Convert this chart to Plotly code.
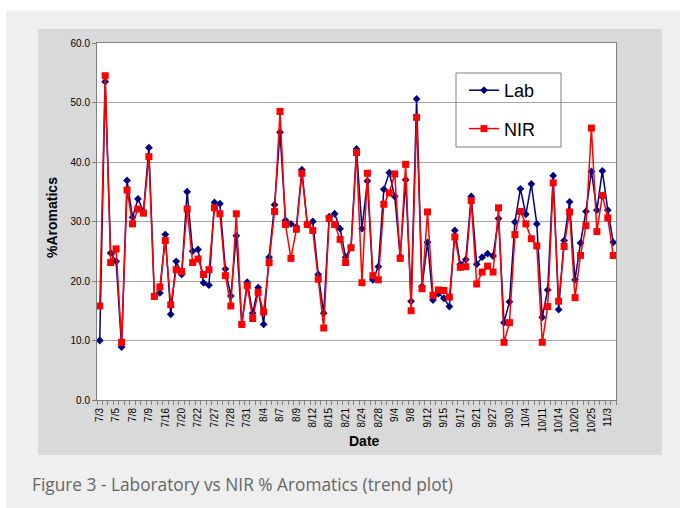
import plotly.graph_objects as go

# ---- data ----
date_labels = ["7/3", "7/5", "7/8", "7/9", "7/16", "7/20", "7/22", "7/27", "7/28", "7/31",
               "8/4", "8/7", "8/9", "8/12", "8/15", "8/21", "8/24", "8/28", "9/4", "9/8",
               "9/12", "9/15", "9/17", "9/21", "9/27", "9/30", "10/4", "10/11", "10/14",
               "10/20", "10/25", "11/3"]
label_every = 3

lab = [10.0, 53.5, 24.7, 23.3, 8.9, 36.9, 30.7, 33.8, 31.7, 42.4,
       17.5, 18.0, 27.8, 14.4, 23.3, 21.1, 35.0, 25.0, 25.3, 19.7,
       19.3, 33.2, 33.0, 22.0, 17.5, 27.6, 12.7, 19.8, 14.6, 18.9,
       12.7, 24.0, 32.8, 45.0, 30.2, 29.6, 29.1, 38.7, 29.5, 30.0,
       21.1, 14.6, 30.8, 31.3, 28.8, 24.0, 25.7, 42.2, 28.8, 36.8,
       20.2, 22.4, 35.4, 38.2, 34.2, 24.1, 37.0, 16.6, 50.6, 19.1,
       26.5, 16.8, 17.9, 17.1, 15.7, 28.5, 22.8, 23.6, 34.2, 22.8,
       24.0, 24.6, 24.2, 30.5, 13.0, 16.5, 29.9, 35.5, 31.2, 36.3,
       29.6, 13.9, 18.5, 37.7, 15.2, 26.8, 33.3, 20.2, 26.4, 31.7,
       38.4, 31.9, 38.5, 31.9, 26.5]

nir = [15.8, 54.5, 23.1, 25.4, 9.7, 35.3, 29.6, 32.1, 31.4, 40.9,
       17.4, 19.0, 26.8, 16.0, 21.9, 21.6, 32.1, 23.1, 23.7, 21.1,
       21.9, 32.3, 31.3, 20.9, 15.8, 31.3, 12.7, 19.2, 13.7, 18.1,
       14.8, 23.1, 31.7, 48.5, 29.5, 23.8, 28.7, 38.1, 29.5, 28.5,
       20.3, 12.1, 30.5, 29.5, 27.0, 23.1, 25.6, 41.6, 19.7, 38.1,
       20.9, 20.2, 32.9, 34.8, 38.0, 23.8, 39.6, 15.0, 47.5, 18.7,
       31.6, 17.6, 18.5, 18.4, 17.3, 27.4, 22.3, 22.4, 33.5, 19.5,
       21.5, 22.5, 21.5, 32.3, 9.7, 13.0, 27.8, 31.7, 29.6, 27.1,
       25.9, 9.7, 15.7, 36.5, 16.6, 25.8, 31.6, 17.2, 24.3, 29.3,
       45.7, 28.3, 34.4, 30.6, 24.3]

y_ticks = [0, 10, 20, 30, 40, 50, 60]

# ---- figure ----
W, H = 680, 508
ML, MR, MT, MB = 97, 64, 43, 108
PW, PH = W - ML - MR, H - MT - MB


def px(x):
    return (x - ML) / PW


def py(y):
    return (H - MB - y) / PH


n = len(lab)
xs = list(range(n))
tickvals = [i * label_every for i in range(len(date_labels))]

ARIAL = "Arial, Liberation Sans, sans-serif"

fig = go.Figure()
fig.add_trace(go.Scatter(
    x=xs, y=lab, name="Lab", mode="lines+markers",
    line=dict(color="#000080", width=1.5),
    marker=dict(symbol="diamond", size=6, color="#000080"),
    legendgroup="a",
))
fig.add_trace(go.Scatter(
    x=xs, y=nir, name="NIR", mode="lines+markers",
    line=dict(color="#ff0000", width=1.5),
    marker=dict(symbol="square", size=7, color="#ff0000"),
    legendgroup="b",
))

shapes = [
    # page background
    dict(type="rect", xref="paper", yref="paper", layer="below",
         x0=px(6), x1=px(680), y0=py(508), y1=py(11),
         fillcolor="#efefef", line=dict(width=0)),
    # chart area
    dict(type="rect", xref="paper", yref="paper", layer="below",
         x0=px(38), x1=px(662), y0=py(455), y1=py(29),
         fillcolor="#d9d9d9", line=dict(width=0)),
    # plot area
    dict(type="rect", xref="paper", yref="paper", layer="below",
         x0=0, x1=1, y0=0, y1=1,
         fillcolor="#ffffff", line=dict(width=0)),
    # legend box
    dict(type="rect", xref="paper", yref="paper", layer="above",
         x0=px(456), x1=px(561), y0=py(147), y1=py(73),
         fillcolor="rgba(0,0,0,0)", line=dict(color="#808080", width=1)),
]

annotations = [
    dict(text="<b>%Aromatics</b>", xref="paper", yref="paper",
         x=px(52), y=py(218), xanchor="center", yanchor="middle",
         textangle=-90, showarrow=False,
         font=dict(family=ARIAL, size=14, color="#000000")),
    dict(text="<b>Date</b>", xref="paper", yref="paper",
         x=px(364), y=py(441), xanchor="center", yanchor="middle",
         showarrow=False, font=dict(family=ARIAL, size=14, color="#000000")),
    dict(text="Figure 3 - Laboratory vs NIR % Aromatics (trend plot)",
         xref="paper", yref="paper", x=px(30), y=py(484),
         xanchor="left", yanchor="middle", showarrow=False,
         font=dict(family="Open Sans", size=17.3, color="#666666")),
]

fig.update_layout(
    width=W, height=H,
    margin=dict(l=ML, r=MR, t=MT, b=MB, pad=0),
    paper_bgcolor="#ffffff",
    plot_bgcolor="#ffffff",
    shapes=shapes,
    annotations=annotations,
    showlegend=True,
    legend=dict(
        x=px(464), y=py(72), xanchor="left", yanchor="top",
        bgcolor="rgba(0,0,0,0)", borderwidth=0,
        font=dict(family=ARIAL, size=18, color="#000000"),
        tracegroupgap=12, itemwidth=30,
    ),
    font=dict(family=ARIAL, size=10, color="#000000"),
)

fig.update_xaxes(
    range=[-0.5, n - 0.5],
    tickmode="array", tickvals=tickvals, ticktext=date_labels,
    tickangle=-90, ticks="outside", ticklen=3, tickcolor="rgba(0,0,0,0)",
    tickfont=dict(family=ARIAL, size=10, color="#000000"),
    minor=dict(tickmode="linear", tick0=-0.5, dtick=1, ticks="outside",
               ticklen=4, tickcolor="#808080", showgrid=False),
    showgrid=False, zeroline=False,
    showline=True, linecolor="#808080", linewidth=1, mirror=True,
)
fig.update_yaxes(
    range=[0, 60], tickmode="array", tickvals=y_ticks, tickformat=".1f",
    ticks="outside", ticklen=4, tickcolor="#808080",
    tickfont=dict(family=ARIAL, size=10, color="#000000"),
    showgrid=True, gridcolor="#a6a6a6", gridwidth=1, zeroline=False,
    showline=True, linecolor="#808080", linewidth=1, mirror=True,
)

fig.write_html("out.html",
               config={"displayModeBar": False},
               post_script="document.body.style.margin='0';"
                           "document.body.style.overflow='hidden';")
